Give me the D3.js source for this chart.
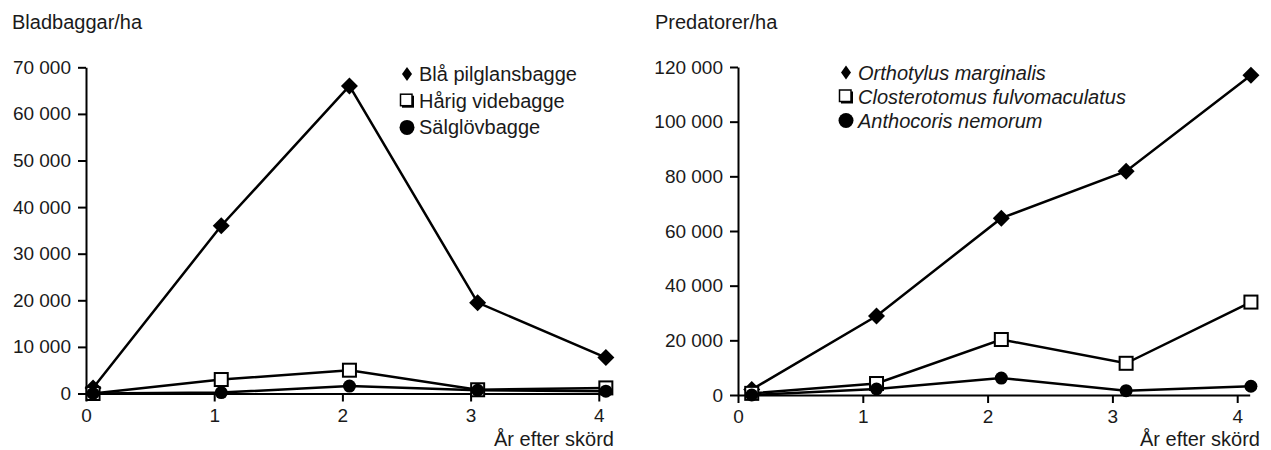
<!DOCTYPE html>
<html>
<head>
<meta charset="utf-8">
<script src="https://cdn.jsdelivr.net/npm/d3@7"></script>
<style>
  body { margin: 0; background: #fff; }
  svg text { font-family: "Liberation Sans", Arial, sans-serif; fill: #1a1a1a; }
  .axis path, .axis line { stroke: #000; stroke-width: 2; }
</style>
</head>
<body>
<div id="chart"></div>
<script>
// ---- data ----
const years = [0, 1, 2, 3, 4];

const leftTitle = "Bladbaggar/ha";
const leftNames = ["Blå pilglansbagge", "Hårig videbagge", "Sälglövbagge"];
const blaPilglansbagge = [1200, 36000, 66000, 19500, 7700];
const harigVidebagge = [0, 3000, 5000, 800, 1200];
const salglovbagge = [0, 200, 1600, 700, 500];
const leftTicks = [0, 10000, 20000, 30000, 40000, 50000, 60000, 70000];

const rightTitle = "Predatorer/ha";
const rightNames = ["Orthotylus marginalis", "Closterotomus fulvomaculatus", "Anthocoris nemorum"];
const orthotylus = [2000, 28900, 64700, 81900, 117000];
const closterotomus = [600, 4200, 20300, 11600, 34000];
const anthocoris = [0, 2200, 6200, 1600, 3200];
const rightTicks = [0, 20000, 40000, 60000, 80000, 100000, 120000];

const xLabel = "År efter skörd";

const width = 1271;
const height = 450;

const svg = d3.select("#chart").append("svg")
  .attr("width", width)
  .attr("height", height);

// "70 000" style numbers
const fmt = d3.formatLocale({ decimal: ",", thousands: "\u00a0", grouping: [3], currency: ["", ""] }).format(",d");

function drawPanel(opt) {
  const g = svg.append("g");

  const x = d3.scaleLinear().domain([0, 4.1]).range([opt.x0, opt.x0 + 4.1 * opt.step]);
  const y = d3.scaleLinear().domain([0, opt.yMax]).range([opt.yBottom, opt.yTop]);

  g.append("text")
    .attr("x", opt.titleX).attr("y", 29)
    .style("font-size", "20px")
    .text(opt.title);

  // axes
  g.append("g")
    .attr("class", "axis")
    .attr("transform", `translate(${x(0)},0)`)
    .call(d3.axisLeft(y).tickValues(opt.ticks).tickFormat(fmt).tickSize(8).tickSizeOuter(0).tickPadding(7))
    .call(a => a.selectAll("text").style("font-size", "19px").attr("fill", "#1a1a1a"));

  g.append("g")
    .attr("class", "axis")
    .attr("transform", `translate(0,${y(0)})`)
    .call(d3.axisBottom(x).tickValues(years).tickFormat(d3.format("d")).tickSize(8).tickSizeOuter(0).tickPadding(7))
    .call(a => a.selectAll("text").style("font-size", "19px").attr("fill", "#1a1a1a"));

  g.append("text")
    .attr("x", opt.xLabelEnd).attr("y", 446)
    .attr("text-anchor", "end")
    .style("font-size", "20px")
    .text(xLabel);

  // points sit slightly right of the year ticks, as in the original
  const line = d3.line()
    .x((d, i) => x(years[i] + opt.offset))
    .y(d => y(d));

  const kinds = ["diamond", "square", "circle"];

  opt.series.forEach(vals => {
    g.append("path")
      .datum(vals)
      .attr("fill", "none")
      .attr("stroke", "#000")
      .attr("stroke-width", 2.5)
      .attr("d", line);
  });

  opt.series.forEach((vals, k) => {
    const kind = kinds[k];
    const pts = g.append("g").selectAll("g")
      .data(vals)
      .enter().append("g")
      .attr("transform", (d, i) => `translate(${x(years[i] + opt.offset)},${y(d)})`);
    if (kind === "diamond") {
      pts.append("path").attr("d", "M0,-8.5L8.5,0L0,8.5L-8.5,0Z").attr("fill", "#000");
    } else if (kind === "square") {
      pts.append("rect").attr("x", -6.5).attr("y", -6.5).attr("width", 13).attr("height", 13)
        .attr("fill", "#fff").attr("stroke", "#000").attr("stroke-width", 2);
    } else {
      pts.append("circle").attr("r", 6.5).attr("fill", "#000");
    }
  });

  // legend
  opt.names.forEach((name, k) => {
    const by = opt.legY + k * opt.legStep;
    const cy = by - 7;
    const sx = opt.legX;
    const kind = kinds[k];
    if (kind === "diamond") {
      g.append("path").attr("d", `M${sx},${cy - 7}L${sx + 5},${cy}L${sx},${cy + 7}L${sx - 5},${cy}Z`).attr("fill", "#000");
    } else if (kind === "square") {
      g.append("rect").attr("x", sx - 5).attr("y", cy - 5).attr("width", 12).attr("height", 12).attr("fill", "#000");
      g.append("rect").attr("x", sx - 6.5).attr("y", cy - 6.5).attr("width", 11.5).attr("height", 11.5)
        .attr("fill", "#fff").attr("stroke", "#000").attr("stroke-width", 1.5);
    } else {
      g.append("circle").attr("cx", sx).attr("cy", cy).attr("r", 7.5).attr("fill", "#000");
    }
    g.append("text")
      .attr("x", sx + 12).attr("y", by)
      .style("font-size", "20px")
      .style("font-style", opt.italic ? "italic" : "normal")
      .text(name);
  });
}

drawPanel({
  title: leftTitle, titleX: 12,
  names: leftNames, series: [blaPilglansbagge, harigVidebagge, salglovbagge],
  ticks: leftTicks, yMax: 70000,
  x0: 86, step: 128.2, yBottom: 393.5, yTop: 67.3,
  offset: 0.055, xLabelEnd: 614,
  legX: 407, legY: 81, legStep: 26.7, italic: false
});

drawPanel({
  title: rightTitle, titleX: 655,
  names: rightNames, series: [orthotylus, closterotomus, anthocoris],
  ticks: rightTicks, yMax: 120000,
  x0: 738, step: 124.8, yBottom: 395, yTop: 67,
  offset: 0.11, xLabelEnd: 1260,
  legX: 846, legY: 79.5, legStep: 24, italic: true
});
</script>
</body>
</html>
